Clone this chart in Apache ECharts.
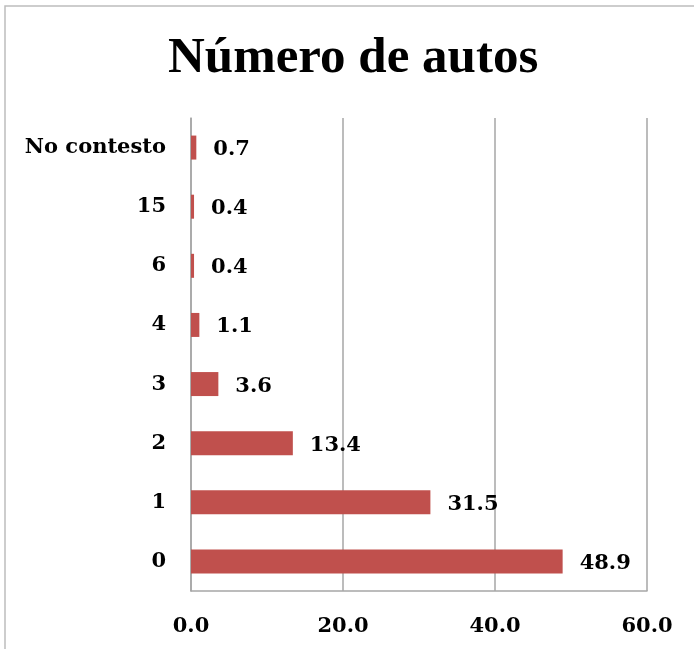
<!DOCTYPE html>
<html>
<head>
<meta charset="utf-8">
<script src="https://cdn.jsdelivr.net/npm/echarts@6/dist/echarts.min.js"></script>
<style>
  html, body { margin: 0; padding: 0; background: #fff; }
  #chart { width: 694px; height: 649px; }
</style>
</head>
<body>
<div id="chart"></div>
<script>
var categories = ['0', '1', '2', '3', '4', '6', '15', 'No contesto']
var values = [48.9, 31.5, 13.4, 3.6, 1.1, 0.4, 0.4, 0.7]
var axisMin = 0
var axisMax = 60
var axisStep = 20

var labelFont = 'DejaVu Serif'
var chart = echarts.init(document.getElementById('chart'))
chart.setOption({
  backgroundColor: '#fff',
  animation: false,
  title: {
    text: 'Número de autos',
    left: 163,
    top: 28,
    textStyle: {
      fontFamily: 'Liberation Serif',
      fontWeight: 'bold',
      fontSize: 51,
      color: '#000'
    }
  },
  graphic: [{
    type: 'rect',
    shape: { x: 5, y: 6, width: 720, height: 700 },
    style: { fill: 'none', stroke: '#bdbdbd', lineWidth: 1.5 },
    silent: true
  }],
  grid: {
    left: 191,
    right: 47,
    top: 118,
    bottom: 58
  },
  xAxis: {
    type: 'value',
    min: axisMin,
    max: axisMax,
    interval: axisStep,
    axisLine: { show: true, lineStyle: { color: '#a6a6a6', width: 1.5 } },
    axisTick: { show: false },
    splitLine: { show: true, lineStyle: { color: '#a6a6a6', width: 1.5 } },
    axisLabel: {
      margin: 25,
      fontFamily: labelFont,
      fontWeight: 'bold',
      fontSize: 21,
      color: '#000',
      formatter: function (v) { return v.toFixed(1) }
    }
  },
  yAxis: {
    type: 'category',
    data: categories,
    axisLine: { show: true, lineStyle: { color: '#a6a6a6', width: 1.5 } },
    axisTick: { show: false },
    axisLabel: {
      margin: 25,
      fontFamily: labelFont,
      fontWeight: 'bold',
      fontSize: 21,
      color: '#000'
    }
  },
  series: [{
    type: 'bar',
    data: values,
    barWidth: 24,
    itemStyle: { color: '#c0504d' },
    label: {
      show: true,
      position: 'right',
      distance: 17,
      offset: [0, 2],
      fontFamily: labelFont,
      fontWeight: 'bold',
      fontSize: 21,
      color: '#000',
      formatter: function (p) { return p.value.toFixed(1) }
    }
  }]
})
</script>
</body>
</html>
